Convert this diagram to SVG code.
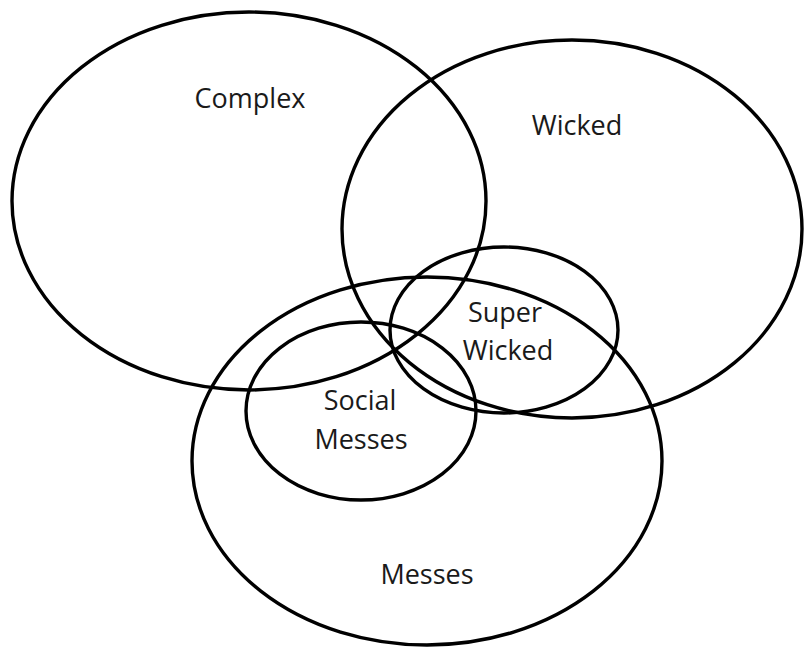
<svg xmlns="http://www.w3.org/2000/svg" width="805" height="650" viewBox="0 0 805 650">
<style>
.e{fill:none;stroke:#000;stroke-width:3.4}
.t{font-family:"Open Sans","Liberation Sans",sans-serif;font-size:27px;fill:#1a1a1a;text-anchor:middle}
</style>
<rect width="805" height="650" fill="#fff"/>
<g id="complex"><ellipse class="e" cx="249" cy="201" rx="237" ry="189"/><text class="t" x="250" y="108">Complex</text></g>
<g id="wicked"><ellipse class="e" cx="572" cy="229" rx="230" ry="189"/><text class="t" x="577" y="135">Wicked</text></g>
<g id="messes"><ellipse class="e" cx="427" cy="461" rx="235" ry="184"/><text class="t" x="427" y="584">Messes</text></g>
<g id="superwicked"><ellipse class="e" cx="504" cy="330" rx="114" ry="83"/><text class="t" x="505" y="322">Super</text><text class="t" x="508" y="360">Wicked</text></g>
<g id="socialmesses"><ellipse class="e" cx="361" cy="411" rx="115" ry="89"/><text class="t" x="360" y="410">Social</text><text class="t" x="361" y="449">Messes</text></g>
<g id="connectors"></g>
</svg>
